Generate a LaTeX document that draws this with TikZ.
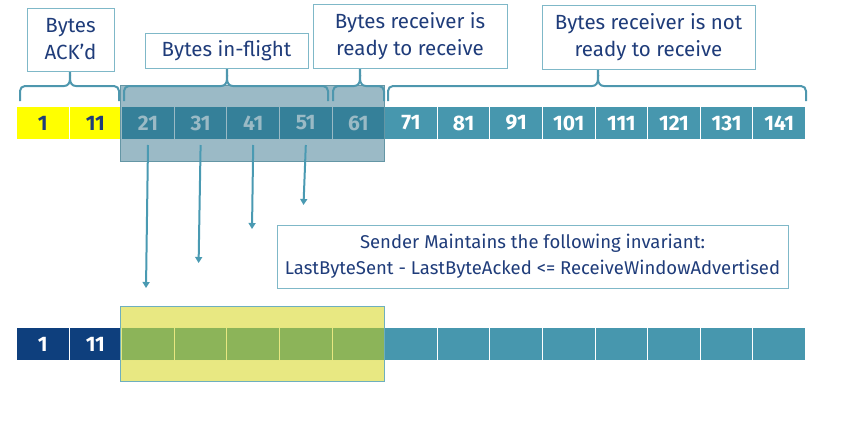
\documentclass[tikz,border=0pt]{standalone}
\usepackage{fontspec}
\setmainfont{Fira Sans}
\usetikzlibrary{arrows.meta}

\definecolor{navytext}{RGB}{31,60,122}
\definecolor{ackyellow}{RGB}{255,255,0}
\definecolor{cellteal}{RGB}{71,151,174}
\definecolor{cellnavy}{RGB}{14,63,125}
\definecolor{braceteal}{RGB}{78,151,174}
\definecolor{boxline}{RGB}{127,184,200}
\definecolor{arrowteal}{RGB}{74,154,178}
\definecolor{flygray}{RGB}{33,102,128}
\definecolor{flyedge}{RGB}{100,150,165}
\definecolor{winyellow}{RGB}{209,209,5}
\definecolor{winedge}{RGB}{110,175,190}

\tikzset{
  cell/.style={draw=white, line width=1pt, minimum width=52.6pt, minimum height=33pt,
    inner sep=0pt, anchor=north west, font=\fontsize{21}{21}\selectfont\bfseries},
  label box/.style={draw=boxline, line width=0.8pt, fill=white, text=navytext,
    align=center, inner sep=0pt, font=\fontsize{20.5}{27}\selectfont},
  brace line/.style={draw=braceteal, line width=2pt},
  flow/.style={draw=arrowteal, line width=2pt, -{Triangle[length=6pt,width=7pt]}},
}

% curly brace: left x, tip x, right x
\newcommand\curlybar[3]{%
  \draw[brace line] (#1,101) -- (#1,91) to[out=90,in=180] (#1+5,86) -- (#2-6,86)
    to[out=0,in=-90] (#2,66) to[out=-90,in=180] (#2+6,86) -- (#3-5,86)
    to[out=0,in=90] (#3,91) -- (#3,101);}

\begin{document}
\begin{tikzpicture}[x=1pt, y=-1pt]
  \useasboundingbox (0,0) rectangle (866,423);

  % SENDER BYTES (top row)
  \foreach \i in {1,...,15}{
    \pgfmathtruncatemacro\num{10*(\i-1)+1}
    \pgfmathsetmacro\xx{16+52.6*(\i-1)}
    \ifnum\i<3 \def\cf{ackyellow}\def\tc{navytext}\else\def\cf{cellteal}\def\tc{white}\fi
    \node[cell, fill=\cf, text=\tc] (t\i) at (\xx,106) {\num};
  }

  % IN-FLIGHT WINDOW
  \node[fill=flygray, fill opacity=0.45, draw=flyedge, line width=0.8pt, inner sep=0pt,
    minimum width=264pt, minimum height=76pt, anchor=north west] (fly) at (120,85) {};

  % BRACES
  \curlybar{20}{70}{119}
  \curlybar{124}{227}{328}
  \curlybar{333}{360}{384}
  \curlybar{388}{598}{806}

  % LABELS
  \node[label box, minimum width=87pt, minimum height=63pt] (ack) at (70.5,39.5) {Bytes\\ACK’d};
  \node[label box, minimum width=163pt, minimum height=35pt] (flight) at (226.5,50.5) {Bytes in-flight};
  \node[label box, minimum width=194pt, minimum height=64pt] (ready) at (410,36) {Bytes receiver is\\ready to receive};
  \node[label box, minimum width=213pt, minimum height=64pt] (notready) at (648.5,37) {Bytes receiver is not\\ready to receive};

  % ARROWS
  \coordinate (a3) at (146,288);
  \coordinate (a4) at (198.6,263);
  \coordinate (a5) at (252,229);
  \coordinate (a6) at (303.5,205);
  \draw[flow] ([yshift=-5pt]t3.south) -- (a3);
  \draw[flow] ([yshift=-5pt]t4.south) -- (a4);
  \draw[flow] ([yshift=-5pt]t5.south) -- (a5);
  \draw[flow] ([yshift=-5pt]t6.south) -- (a6);

  % INVARIANT
  \node[label box, minimum width=511pt, minimum height=63pt, font=\fontsize{18.5}{26}\selectfont]
    (rule) at (532.5,256.5) {Sender Maintains the following invariant:\\LastByteSent - LastByteAcked <= ReceiveWindowAdvertised};

  % RECEIVER WINDOW (bottom row)
  \foreach \i in {1,...,15}{
    \pgfmathtruncatemacro\num{10*(\i-1)+1}
    \pgfmathsetmacro\xx{16+52.6*(\i-1)}
    \ifnum\i<3
      \node[cell, fill=cellnavy, text=white] (b\i) at (\xx,327) {\num};
    \else
      \node[cell, fill=cellteal] (b\i) at (\xx,327) {};
    \fi
  }
  \node[fill=winyellow, fill opacity=0.5, draw=winedge, line width=0.8pt, inner sep=0pt,
    minimum width=264pt, minimum height=75pt, anchor=north west] (win) at (120,306) {};
\end{tikzpicture}
\end{document}
